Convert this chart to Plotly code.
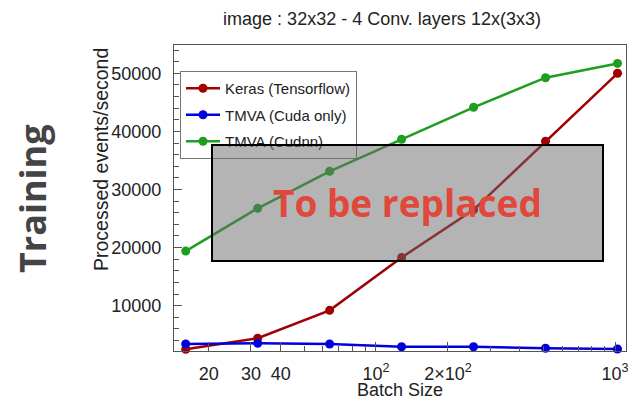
import plotly.graph_objects as go

batch_sizes = [16, 32, 64, 128, 256, 512, 1024]
keras_tf = [2500, 4400, 9200, 18300, 26500, 38300, 50000]
tmva_cuda = [3400, 3530, 3400, 2940, 2940, 2670, 2550]
tmva_cudnn = [19400, 26760, 33130, 38640, 44150, 49240, 51700]

series_names = ["Keras (Tensorflow)", "TMVA (Cuda only)", "TMVA (Cudnn)"]
series_colors = ["#a00000", "#0000dd", "#1e9e1e"]

x_tickvals = [20, 30, 40, 100, 200, 1000]
x_ticktext = ["20", "30", "40", "10<sup>2</sup>", "2×10<sup>2</sup>", "10<sup>3</sup>"]
x_minor = [50, 60, 70, 80, 90, 300, 400, 500, 600, 700, 800, 900]
y_tickvals = [10000, 20000, 30000, 40000, 50000]
y_ticktext = ["10000", "20000", "30000", "40000", "50000"]

title_text = "image : 32x32 - 4 Conv. layers 12x(3x3)"

W, H = 628, 397
L, R, T, B = 174, 2, 45, 46
pw, ph = W - L - R, H - T - B

def px(xp):
    return (xp - L) / pw

def py(yp):
    return (H - B - yp) / ph

fig = go.Figure()
for name, vals, col in zip(series_names, [keras_tf, tmva_cuda, tmva_cudnn], series_colors):
    fig.add_trace(go.Scatter(
        x=batch_sizes, y=vals, name=name, mode="lines+markers",
        line=dict(color=col, width=2.5), marker=dict(color=col, size=9),
        legendgroup=name, cliponaxis=False,
    ))

axis_font = dict(family="Liberation Sans, Arial, sans-serif", size=18, color="#222")

fig.update_layout(
    width=W, height=H,
    margin=dict(l=L, r=R, t=T, b=B, pad=0, autoexpand=False),
    paper_bgcolor="white", plot_bgcolor="white",
    font=dict(family="Liberation Sans, Arial, sans-serif", color="#222"),
    showlegend=True,
    title=dict(text=title_text, x=382 / W, xref="container",
               xanchor="center", y=1 - 19 / H, yref="container", yanchor="middle",
               font=dict(family="Liberation Sans, Arial, sans-serif", size=18, color="#222")),
    legend=dict(x=px(180), y=py(71), xanchor="left", yanchor="top",
                bgcolor="white", bordercolor="#777", borderwidth=1,
                font=dict(family="Liberation Sans, Arial, sans-serif", size=15, color="#222"),
                tracegroupgap=4, traceorder="grouped", itemwidth=34),
    xaxis=dict(type="log", range=[1.1552, 3.0458], showgrid=False, zeroline=False,
               showline=True, linecolor="#555", linewidth=1, mirror=True,
               ticks="inside", ticklen=9, tickcolor="#555",
               tickvals=x_tickvals, ticktext=x_ticktext, tickfont=axis_font,
               ticklabelstandoff=6, ticklabeloverflow="allow",
               minor=dict(tickvals=x_minor, ticks="inside", ticklen=5, tickcolor="#555")),
    yaxis=dict(range=[2203, 54870], showgrid=False, zeroline=False,
               showline=True, linecolor="#555", linewidth=1, mirror=True,
               ticks="inside", ticklen=8, tickcolor="#555",
               tickvals=y_tickvals, ticktext=y_ticktext, tickfont=axis_font, ticklabelstandoff=8,
               minor=dict(dtick=2000, tick0=0, ticks="inside", ticklen=5, tickcolor="#555")),
)

annotations = [
    dict(text="Batch Size", x=px(400), y=py(390), xref="paper", yref="paper",
         xanchor="center", yanchor="middle", showarrow=False, font=axis_font),
    dict(text="Processed events/second", x=px(101), y=py(160), xref="paper", yref="paper",
         xanchor="center", yanchor="middle", showarrow=False, textangle=-90,
         font=dict(family="Liberation Sans, Arial, sans-serif", size=19.5, color="#222")),
    dict(text="Training", x=px(32), y=py(199), xref="paper", yref="paper",
         xanchor="center", yanchor="middle", showarrow=False, textangle=-90,
         font=dict(family="Open Sans, Noto Sans, sans-serif", size=36, color="#444444", weight="bold")),
    dict(text=" ", x=px(407.5), y=py(203), xref="paper", yref="paper",
         xanchor="center", yanchor="middle", showarrow=False,
         width=389, height=114, bgcolor="rgba(105,105,105,0.5)",
         bordercolor="black", borderwidth=2, borderpad=0),
    dict(text="To be replaced", x=px(407), y=py(203), xref="paper", yref="paper",
         xanchor="center", yanchor="middle", showarrow=False,
         font=dict(family="Open Sans, Noto Sans, sans-serif", size=37, color="#e0483c", weight="bold")),
]
fig.update_layout(annotations=annotations)

fig.write_html("out.html", config={"displayModeBar": False},
               post_script="document.body.style.margin='0';document.body.style.padding='0';")
